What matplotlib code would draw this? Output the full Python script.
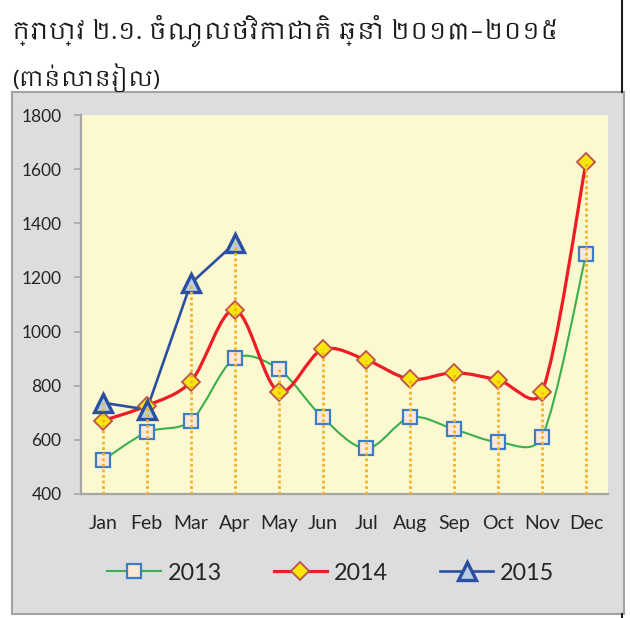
import numpy as np
import matplotlib
matplotlib.use('Agg')
import matplotlib.pyplot as plt
from matplotlib import font_manager
from matplotlib.path import Path
from matplotlib.patches import PathPatch, Rectangle
from matplotlib.lines import Line2D

# ---------------- data ----------------
months = ['Jan', 'Feb', 'Mar', 'Apr', 'May', 'Jun', 'Jul', 'Aug', 'Sep', 'Oct', 'Nov', 'Dec']
rev_2013 = [525, 628, 670, 901, 861, 683, 569, 683, 639, 592, 612, 1285]
rev_2014 = [671, 726, 815, 1080, 778, 934, 895, 824, 848, 821, 778, 1625]
rev_2015 = [737, 712, 1178, 1326]
series_names = ['2013', '2014', '2015']
y_ticks = [400, 600, 800, 1000, 1200, 1400, 1600, 1800]
title_text = 'ក្រាហ្វ ២.១. ចំណូលថវិកាជាតិ ឆ្នាំ ២០១៣–២០១៥'
subtitle_text = '(ពាន់លានរៀល)'


def find_khmer_font():
    for f in font_manager.fontManager.ttflist:
        if 'khmer' in f.name.lower():
            return f.name
    try:
        from fontTools.ttLib import TTFont
    except Exception:
        return None
    for f in font_manager.fontManager.ttflist:
        try:
            tt = TTFont(f.fname, lazy=True, fontNumber=0)
            cmap = tt.getBestCmap()
            if cmap and 0x1780 in cmap and 0x17D2 in cmap:
                return f.name
        except Exception:
            pass
    return None


khmer = find_khmer_font()
title_family = ([khmer] if khmer else []) + ['Lato', 'DejaVu Sans']

plt.rcParams['font.family'] = ['Lato', 'DejaVu Sans']

W, H = 630, 618
fig = plt.figure(figsize=(W / 100, H / 100), dpi=100)
fig.patch.set_facecolor('white')

# grey chart panel
fig.add_artist(Rectangle((12 / W, 4 / H), 612 / W, 522 / H, transform=fig.transFigure,
                         facecolor='#DCDDDF', edgecolor='#A3A3A3', lw=1.5, zorder=0))
# black vertical page line on the right
fig.add_artist(Line2D([622 / W, 622 / W], [1 - 92 / H, 1.0], transform=fig.transFigure,
                      color='#1E1E1E', lw=1.5))
fig.add_artist(Line2D([622 / W, 622 / W], [0.0, 4 / H], transform=fig.transFigure,
                      color='#1E1E1E', lw=1.5))

fig.text(12 / W, 1 - 31 / H, title_text, fontsize=17.5, ha='left', va='center',
         color='#1A1A1A', family=title_family)
fig.text(12 / W, 1 - 78 / H, subtitle_text, fontsize=16, ha='left', va='center',
         color='#1A1A1A', family=title_family)

ax = fig.add_axes([81 / W, 124 / H, 527 / W, 379 / H])
ax.set_facecolor('#FCF8CF')
ax.set_xlim(-0.5, 11.5)
ax.set_ylim(400, 1800)
ax.set_yticks(y_ticks)
ax.set_xticks(range(len(months)))
ax.set_xticklabels(months)
for s in ['top', 'right']:
    ax.spines[s].set_visible(False)
for s in ['left', 'bottom']:
    ax.spines[s].set_color('#A6A6A6')
    ax.spines[s].set_linewidth(1.6)
ax.tick_params(axis='y', direction='out', length=5, width=1.2, color='#A6A6A6',
               labelsize=12.5, labelcolor='#262626', pad=9)
ax.tick_params(axis='x', length=0, labelsize=14, labelcolor='#262626', pad=15)

x = np.arange(len(months))


def smooth_curve(xs, ys):
    pts = ax.transData.transform(np.column_stack([xs, ys]).astype(float))
    n = len(pts)
    verts = [pts[0]]
    codes = [Path.MOVETO]
    for i in range(n - 1):
        p0 = pts[i - 1] if i > 0 else pts[i]
        p1 = pts[i]
        p2 = pts[i + 1]
        p3 = pts[i + 2] if i + 2 < n else pts[i + 1]
        d01 = np.hypot(*(p1 - p0))
        d12 = np.hypot(*(p2 - p1))
        d23 = np.hypot(*(p3 - p2))
        r1 = d12 / (d01 + d12) if d01 + d12 > 0 else 0.5
        r2 = d12 / (d12 + d23) if d12 + d23 > 0 else 0.5
        k1 = min(np.sqrt(r1 / 0.5), 1.0) / 6
        k2 = min(np.sqrt(r2 / 0.5), 1.0) / 6
        c1 = p1 + (p2 - p0) * k1
        c2 = p2 - (p3 - p1) * k2
        verts += [c1, c2, p2]
        codes += [Path.CURVE4] * 3
    verts = ax.transData.inverted().transform(np.array(verts))
    return Path(verts, codes)


# smoothed lines
ax.add_patch(PathPatch(smooth_curve(x, rev_2013), facecolor='none', edgecolor='#3BB04A',
                       lw=1.5, zorder=2, capstyle='round'))
ax.add_patch(PathPatch(smooth_curve(x, rev_2014), facecolor='none', edgecolor='#EE1C24',
                       lw=2.3, zorder=3, capstyle='round'))
ax.plot(x[:len(rev_2015)], rev_2015, color='#2A4EA0', lw=1.9, zorder=4)

# markers
ax.plot(x, rev_2013, ls='none', marker='s', ms=10, mfc='#FCE8D8', mec='#3C7DC3', mew=1.6, zorder=5)
ax.plot(x, rev_2014, ls='none', marker='D', ms=9.3, mfc='#F6E60B', mec='#C0504D', mew=1.3, zorder=6)
ax.plot(x[:len(rev_2015)], rev_2015, ls='none', marker='^', ms=12.5, mfc='#B8CCE4',
        mec='#2A4EA0', mew=2.4, zorder=7)

# drop lines
tops = []
for i in range(len(months)):
    vals = [rev_2013[i], rev_2014[i]]
    if i < len(rev_2015):
        vals.append(rev_2015[i])
    tops.append(max(vals))
ax.vlines(x, 400, tops, colors='#F5B324', linestyles=(0, (1, 1)), lw=2, zorder=8)

handles = [
    Line2D([], [], color='#3BB04A', lw=1.5, marker='s', ms=10, mfc='#FCE8D8', mec='#3C7DC3', mew=1.6),
    Line2D([], [], color='#EE1C24', lw=2.3, marker='D', ms=9.3, mfc='#F6E60B', mec='#C0504D', mew=1.3),
    Line2D([], [], color='#2A4EA0', lw=1.9, marker='^', ms=12.5, mfc='#B8CCE4', mec='#2A4EA0', mew=2.4),
]
fig.legend(handles, series_names, loc='center', bbox_to_anchor=(331 / W, 1 - 573 / H),
           ncol=3, frameon=False, fontsize=16.8, handlelength=2.3, handletextpad=0.3,
           columnspacing=2.2, labelcolor='#262626')

fig.savefig('out.png', dpi=100, facecolor='white')
